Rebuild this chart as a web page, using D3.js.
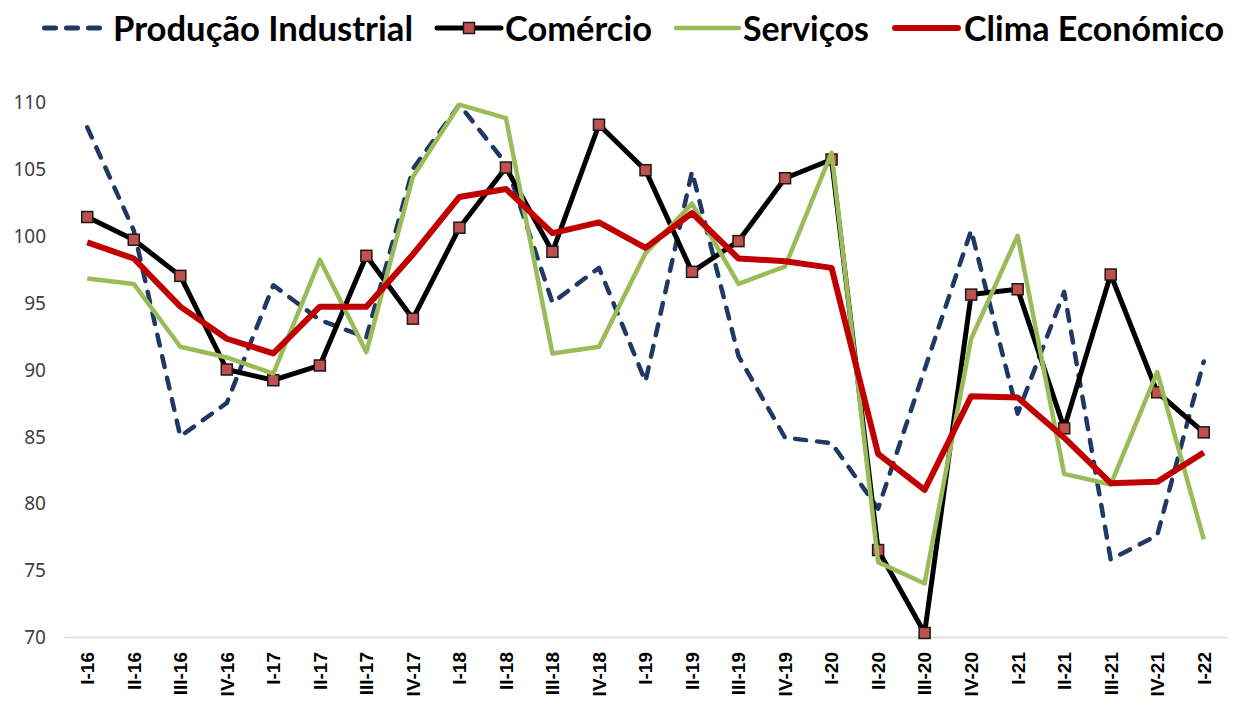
<html>
<script src="https://cdn.jsdelivr.net/npm/d3@7/dist/d3.min.js"></script>
<head>
    <style>
        body {
            margin: 0;
            background: #fff;
        }
    </style>
</head>
<body>
    <svg id="Chart"></svg>
</body>
<script>
// quarters on the x axis
let categories = ["I-16", "II-16", "III-16", "IV-16", "I-17", "II-17", "III-17", "IV-17",
    "I-18", "II-18", "III-18", "IV-18", "I-19", "II-19", "III-19", "IV-19",
    "I-20", "II-20", "III-20", "IV-20", "I-21", "II-21", "III-21", "IV-21", "I-22"];

let producaoIndustrial = [108.1, 100.4, 85.0, 87.5, 96.3, 93.7, 92.4, 105.0, 109.8, 105.4, 95.0, 97.6,
    89.1, 104.8, 91.0, 84.9, 84.5, 79.6, 90.0, 100.4, 86.7, 95.8, 75.8, 77.6, 90.6];
let comercio = [101.4, 99.7, 97.0, 90.0, 89.2, 90.3, 98.5, 93.8, 100.6, 105.1, 98.8, 108.3,
    104.9, 97.3, 99.6, 104.3, 105.7, 76.5, 70.3, 95.6, 96.0, 85.6, 97.1, 88.3, 85.3];
let servicos = [96.8, 96.4, 91.7, 90.9, 89.7, 98.2, 91.3, 104.4, 109.8, 108.8, 91.2, 91.7,
    98.7, 102.4, 96.4, 97.7, 106.2, 75.6, 74.0, 92.3, 100.0, 82.2, 81.4, 89.8, 77.3];
let climaEconomico = [99.5, 98.3, 94.7, 92.3, 91.2, 94.7, 94.7, 98.6, 102.9, 103.5, 100.2, 101.0,
    99.1, 101.7, 98.3, 98.1, 97.6, 83.7, 81.0, 88.0, 87.9, 84.9, 81.5, 81.6, 83.8];

let seriesNames = ["Produção Industrial", "Comércio", "Serviços", "Clima Económico"];
let yTicks = [70, 75, 80, 85, 90, 95, 100, 105, 110];

function getConfig() {
    let width = 1241;
    let height = 707;
    let container = d3.select("#Chart")
        .attr("width", width)
        .attr("height", height);
    // styles in the same order as seriesNames
    let styles = [
        { color: "#1f3864", width: 4.5, dash: "11,11", marker: false },
        { color: "#000000", width: 5, dash: null, marker: true },
        { color: "#9bbb59", width: 4.5, dash: null, marker: false },
        { color: "#c00000", width: 6, dash: null, marker: false }
    ];
    return { width, height, container, styles };
}

function getScales() {
    let xScale = d3.scaleBand()
        .domain(categories)
        .range([64, 1227]);
    let yScale = d3.scaleLinear()
        .domain([70, 110])
        .range([637, 102]);
    return { xScale, yScale };
}

function drawAxes(scales, config) {
    let { xScale, yScale } = scales;
    let { container } = config;

    // y axis: labels only
    let axisY = d3.axisLeft(yScale).tickValues(yTicks).tickSize(0).tickPadding(0);
    let gy = container.append("g")
        .attr("transform", "translate(46,0)")
        .call(axisY);
    gy.select(".domain").remove();
    gy.selectAll("text")
        .attr("font-family", "'Noto Sans', 'Open Sans', sans-serif")
        .attr("font-size", 19)
        .attr("fill", "#404040")
        .attr("dy", "0.35em");

    // x axis: grey line and rotated labels
    let axisX = d3.axisBottom(xScale).tickSize(0).tickPadding(0);
    let gx = container.append("g")
        .attr("transform", "translate(0,637)")
        .call(axisX);
    gx.select(".domain")
        .attr("stroke", "#d9d9d9")
        .attr("stroke-width", 1.5);
    gx.selectAll("text")
        .attr("font-family", "'Liberation Sans', Arial, sans-serif")
        .attr("font-weight", "bold")
        .attr("font-size", 19)
        .attr("fill", "#000")
        .attr("text-anchor", "end")
        .attr("transform", "translate(0,15) rotate(-90)")
        .attr("x", 0)
        .attr("y", 0)
        .attr("dy", "0.36em");
}

function drawSeries(scales, config) {
    let { xScale, yScale } = scales;
    let { container, styles } = config;
    let cx = c => xScale(c) + xScale.bandwidth() / 2;
    let allValues = [producaoIndustrial, comercio, servicos, climaEconomico];

    allValues.forEach((values, i) => {
        let s = styles[i];
        let points = categories.map((c, j) => ({ cat: c, value: values[j] }));
        let line = d3.line()
            .x(d => cx(d.cat))
            .y(d => yScale(d.value));
        let g = container.append("g");
        g.append("path")
            .datum(points)
            .attr("d", line)
            .attr("fill", "none")
            .attr("stroke", s.color)
            .attr("stroke-width", s.width)
            .attr("stroke-linejoin", "round")
            .attr("stroke-linecap", s.dash ? "round" : "butt")
            .attr("stroke-dasharray", s.dash);
        if (s.marker) {
            g.selectAll("rect").data(points)
                .enter().append("rect")
                .attr("x", d => cx(d.cat) - 5.5)
                .attr("y", d => yScale(d.value) - 5.5)
                .attr("width", 11)
                .attr("height", 11)
                .attr("fill", "#c0504d")
                .attr("stroke", "#1a1a1a")
                .attr("stroke-width", 1.5);
        }
    });
}

function drawLegend(config) {
    let { container, styles } = config;
    let lineX = [44.5, 437, 676, 895];
    let lineLen = [55.5, 64, 63, 63];
    let textX = [113, 505, 743, 964];
    let textW = [300, 147, 126, 260];
    let legend = container.append("g");

    seriesNames.forEach((name, i) => {
        let s = styles[i];
        legend.append("line")
            .attr("x1", lineX[i])
            .attr("x2", lineX[i] + lineLen[i])
            .attr("y1", 28)
            .attr("y2", 28)
            .attr("stroke", s.color)
            .attr("stroke-width", s.dash ? 5 : s.width)
            .attr("stroke-linecap", "round")
            .attr("stroke-dasharray", s.dash);
        if (s.marker) {
            legend.append("rect")
                .attr("x", lineX[i] + lineLen[i] / 2 - 5.5)
                .attr("y", 22.5)
                .attr("width", 11)
                .attr("height", 11)
                .attr("fill", "#c0504d")
                .attr("stroke", "#1a1a1a")
                .attr("stroke-width", 1.5);
        }
        legend.append("text")
            .attr("x", textX[i])
            .attr("y", 41)
            .attr("font-family", "Lato, 'Open Sans', sans-serif")
            .attr("font-weight", "bold")
            .attr("font-size", 34)
            .attr("fill", "#000")
            .attr("textLength", textW[i])
            .attr("lengthAdjust", "spacingAndGlyphs")
            .text(name);
    });
}

function drawChart() {
    let config = getConfig();
    let scales = getScales();
    drawAxes(scales, config);
    drawSeries(scales, config);
    drawLegend(config);
}

drawChart();
</script>
</html>
